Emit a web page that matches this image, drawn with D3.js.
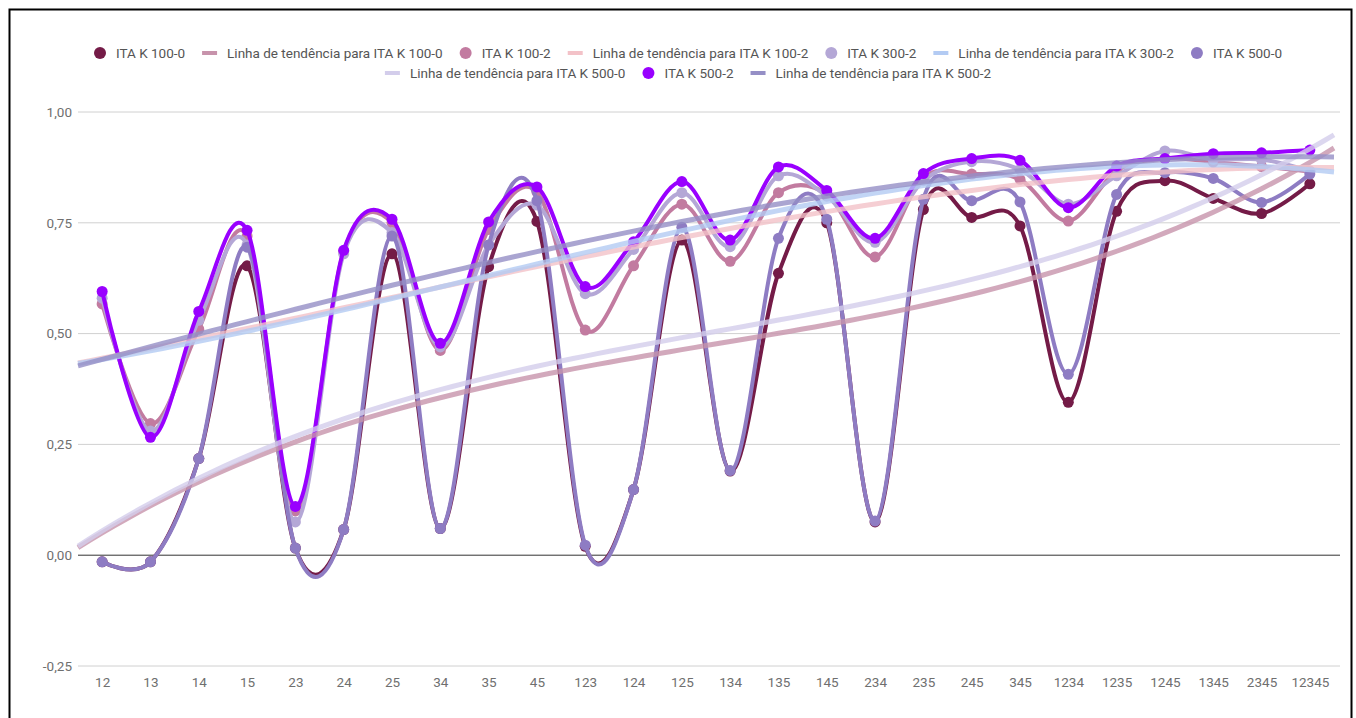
<!DOCTYPE html>
<html>
<head>
<meta charset="utf-8">
<script src="https://cdn.jsdelivr.net/npm/d3@7"></script>
<style>
  body { margin: 0; background: #fff; font-family: Roboto, "Noto Sans", sans-serif; }
  svg { display: block; }
</style>
</head>
<body>
<script>
// categories on the x axis
var categories = ['12','13','14','15','23','24','25','34','35','45','123','124','125','134','135','145',
                  '234','235','245','345','1234','1235','1245','1345','2345','12345'];

var ita100_0 = [-0.015,-0.015,0.218,0.653,0.016,0.058,0.68,0.06,0.651,0.753,0.02,0.148,0.711,0.19,0.636,0.75,
                0.075,0.78,0.762,0.743,0.345,0.776,0.845,0.805,0.771,0.838];
var ita100_2 = [0.567,0.297,0.51,0.72,0.10,0.685,0.75,0.462,0.735,0.82,0.508,0.653,0.792,0.663,0.818,0.815,
                0.673,0.852,0.86,0.848,0.754,0.867,0.895,0.887,0.877,0.866];
var ita300_2 = [0.58,0.28,0.53,0.70,0.075,0.68,0.728,0.47,0.70,0.79,0.59,0.69,0.818,0.696,0.856,0.81,
                0.706,0.845,0.888,0.87,0.792,0.856,0.912,0.893,0.893,0.867];
var ita500_0 = [-0.015,-0.015,0.218,0.695,0.016,0.058,0.72,0.06,0.70,0.80,0.0225,0.148,0.74,0.191,0.715,0.758,
                0.077,0.803,0.80,0.797,0.408,0.814,0.863,0.85,0.796,0.86];
var ita500_2 = [0.595,0.266,0.55,0.733,0.11,0.688,0.758,0.478,0.752,0.831,0.606,0.707,0.843,0.711,0.876,0.823,
                0.715,0.861,0.895,0.891,0.784,0.878,0.895,0.906,0.908,0.914];

var seriesNames = ['ITA K 100-0','ITA K 100-2','ITA K 300-2','ITA K 500-0','ITA K 500-2'];
var seriesColors = ['#741b47','#c27ba0','#b4a7d6','#8e7cc3','#9900ff'];
var trendColors = ['#c793ab','#f3c2c8','#b3cbf3','#d3cdeb','#958fc6'];
var yTicks = [-0.25, 0, 0.25, 0.5, 0.75, 1];

var seriesData = [ita100_0, ita100_2, ita300_2, ita500_0, ita500_2];

var W = 1356, H = 718;
var svg = d3.select('body').append('svg').attr('width', W).attr('height', H);

// frame of the screenshot
svg.append('rect').attr('x', 9.5).attr('y', 9.5).attr('width', 1342).attr('height', 720)
   .attr('fill', 'none').attr('stroke', '#000').attr('stroke-width', 2);

var x = d3.scalePoint().domain(categories).range([78, 1334]).padding(0.5);
var y = d3.scaleLinear().domain([-0.25, 1]).range([666, 112]);
var step = x.step();

var locale = d3.formatLocale({decimal: ',', thousands: '.', grouping: [3], currency: ['', ''], minus: '-'});
var fmt = locale.format('.2f');

// gridlines
var grid = svg.append('g');
grid.selectAll('line').data(yTicks).enter().append('line')
    .attr('x1', 78).attr('x2', 1340)
    .attr('y1', d => y(d)).attr('y2', d => y(d))
    .attr('stroke', d => d === 0 ? '#333' : '#d0d0d0')
    .attr('stroke-width', 1);

// axes
var yAxis = svg.append('g').attr('transform', 'translate(72,0)')
    .call(d3.axisLeft(y).tickValues(yTicks).tickFormat(fmt).tickSize(0).tickPadding(0));
yAxis.select('.domain').remove();
yAxis.selectAll('text').attr('font-size', 13.5).attr('fill', '#6f6f6f').attr('font-family', 'Roboto');

var xAxis = svg.append('g').attr('transform', 'translate(0,666)')
    .call(d3.axisBottom(x).tickSize(0).tickPadding(11));
xAxis.select('.domain').remove();
xAxis.selectAll('text').attr('font-size', 13.5).attr('fill', '#6f6f6f').attr('font-family', 'Roboto');

// cubic least squares trend line
function polyFit(vals, deg) {
  var n = deg + 1;
  var A = [], b = [];
  for (var r = 0; r < n; r++) { A.push(new Array(n).fill(0)); b.push(0); }
  vals.forEach((v, i) => {
    var t = i + 1;
    for (var r = 0; r < n; r++) {
      for (var c = 0; c < n; c++) A[r][c] += Math.pow(t, r + c);
      b[r] += v * Math.pow(t, r);
    }
  });
  // gaussian elimination
  for (var k = 0; k < n; k++) {
    var p = k;
    for (var r = k + 1; r < n; r++) if (Math.abs(A[r][k]) > Math.abs(A[p][k])) p = r;
    [A[k], A[p]] = [A[p], A[k]]; [b[k], b[p]] = [b[p], b[k]];
    for (var r = k + 1; r < n; r++) {
      var f = A[r][k] / A[k][k];
      for (var c = k; c < n; c++) A[r][c] -= f * A[k][c];
      b[r] -= f * b[k];
    }
  }
  var coef = new Array(n).fill(0);
  for (var k = n - 1; k >= 0; k--) {
    var s = b[k];
    for (var c = k + 1; c < n; c++) s -= A[k][c] * coef[c];
    coef[k] = s / A[k][k];
  }
  return t => coef.reduce((acc, cf, i) => acc + cf * Math.pow(t, i), 0);
}

var xIdx = i => x(categories[0]) + i * step;
var line = d3.line().x((d, i) => x(categories[i])).y(d => y(d)).curve(d3.curveCardinal.tension(0));
var trendLine = d3.line().x(d => xIdx(d[0] - 1)).y(d => y(d[1]));

var plot = svg.append('g');
seriesData.forEach((vals, s) => {
  plot.append('path').datum(vals)
      .attr('d', line)
      .attr('fill', 'none')
      .attr('stroke', seriesColors[s])
      .attr('stroke-width', 4);
  plot.selectAll('.pt' + s).data(vals).enter().append('circle')
      .attr('cx', (d, i) => x(categories[i]))
      .attr('cy', d => y(d))
      .attr('r', 5.5)
      .attr('fill', seriesColors[s]);
});

seriesData.forEach((vals, s) => {
  var f = polyFit(vals, 3);
  var pts = d3.range(0.5, 26.51, 0.25).map(t => [t, f(t)]);
  plot.append('path').datum(pts)
      .attr('d', trendLine)
      .attr('fill', 'none')
      .attr('stroke', trendColors[s])
      .attr('stroke-opacity', 0.8)
      .attr('stroke-width', 5);
});

// legend
var legendItems = [];
seriesNames.forEach((n, s) => {
  legendItems.push({type: 'dot', label: n, color: seriesColors[s]});
  legendItems.push({type: 'line', label: 'Linha de tendência para ' + n, color: trendColors[s]});
});

var legend = svg.append('g');
var rows = [[]], rowW = [0], maxW = 1200, gap = 17;
legendItems.forEach(item => {
  var t = legend.append('text').attr('font-size', 13.5).attr('font-family', 'Roboto').text(item.label);
  item.tw = t.node().getComputedTextLength();
  t.remove();
  item.mw = item.type === 'dot' ? 12 : 15;
  item.w = item.mw + 10 + item.tw;
  var r = rows.length - 1;
  var add = item.w + (rows[r].length ? gap : 0);
  if (rowW[r] + add > maxW) { rows.push([]); rowW.push(0); r++; add = item.w; }
  rows[r].push(item); rowW[r] += add;
});

rows.forEach((row, r) => {
  var cx = 688 - rowW[r] / 2;
  var cy = 53 + r * 20;
  row.forEach(item => {
    if (item.type === 'dot') {
      legend.append('circle').attr('cx', cx + 6).attr('cy', cy).attr('r', 6).attr('fill', item.color);
    } else {
      legend.append('line').attr('x1', cx).attr('x2', cx + 15).attr('y1', cy).attr('y2', cy)
            .attr('stroke', item.color).attr('stroke-width', 4);
    }
    legend.append('text').attr('x', cx + item.mw + 10).attr('y', cy + 5)
          .attr('font-size', 13.5).attr('font-family', 'Roboto').attr('fill', '#555')
          .text(item.label);
    cx += item.w + gap;
  });
});
</script>
</body>
</html>
